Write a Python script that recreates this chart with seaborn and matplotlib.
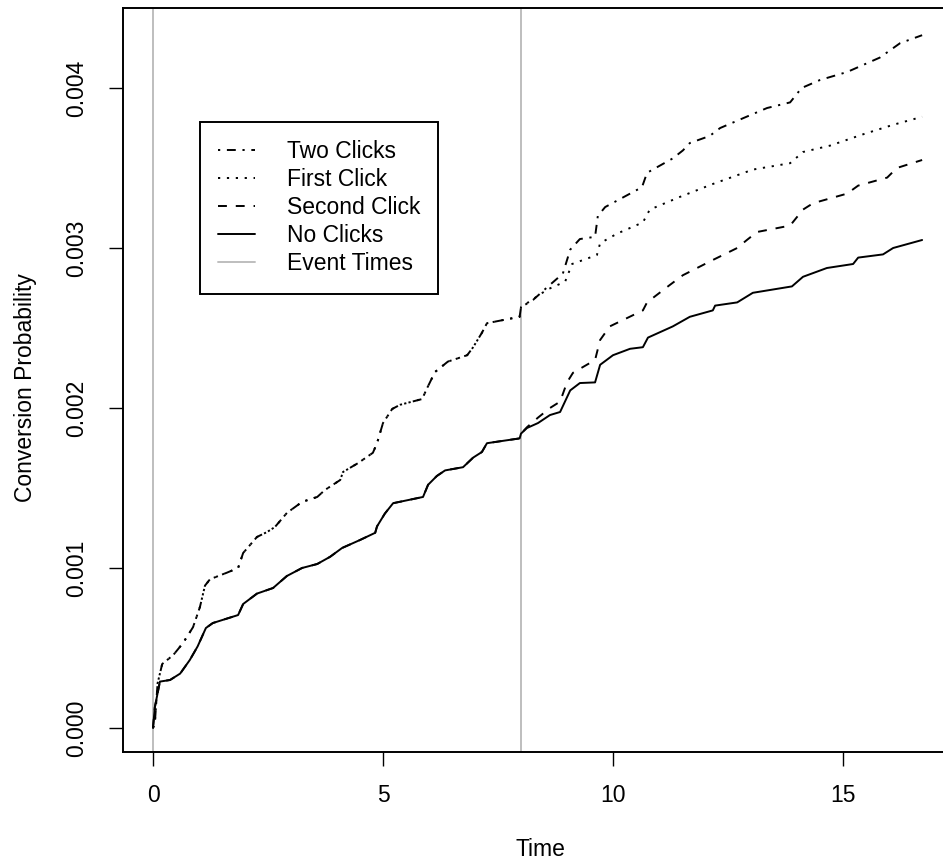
import matplotlib
matplotlib.use("Agg")
import matplotlib.pyplot as plt
from matplotlib.lines import Line2D
import numpy as np
import pandas as pd
import seaborn as sns

# ---- data (probabilities in units of 1e-3) ----
SCALE = 1e-3

# before the second event both "first click" curves share one path,
# and both "no first click" curves share another
t_upper_early = [0, 0.04, 0.10, 0.20, 0.44, 0.65, 0.87, 1.02, 1.13, 1.24, 1.60,
                 1.85, 1.96, 2.26, 2.48, 2.65, 2.91, 3.24, 3.57, 3.74, 4.07, 4.13,
                 4.46, 4.78, 4.87, 5.00, 5.20, 5.37, 5.85, 5.96, 6.13, 6.41, 6.83,
                 6.96, 7.15, 7.26, 7.97]
p_upper_early = [0, 0.03, 0.28, 0.40, 0.456, 0.53, 0.63, 0.756, 0.89, 0.93, 0.97,
                 1.0, 1.094, 1.194, 1.225, 1.256, 1.344, 1.413, 1.444, 1.488, 1.55,
                 1.6, 1.656, 1.72, 1.78, 1.906, 1.994, 2.02, 2.056, 2.125, 2.225,
                 2.29, 2.33, 2.38, 2.47, 2.53, 2.57]

t_lower_early = [0, 0.04, 0.15, 0.37, 0.59, 0.80, 0.97, 1.15, 1.30, 1.85, 1.96,
                 2.26, 2.61, 2.91, 3.24, 3.57, 3.85, 4.11, 4.50, 4.83, 4.87, 5.04,
                 5.22, 5.87, 5.98, 6.17, 6.35, 6.74, 6.96, 7.15, 7.26, 7.97]
p_lower_early = [0, 0.13, 0.29, 0.30, 0.34, 0.425, 0.51, 0.625, 0.656, 0.706, 0.775,
                 0.84, 0.875, 0.95, 1.0, 1.025, 1.07, 1.125, 1.175, 1.22, 1.26, 1.34,
                 1.405, 1.444, 1.52, 1.575, 1.61, 1.63, 1.69, 1.725, 1.78, 1.81]

t_two = [8.0, 8.26, 8.59, 8.91, 9.07, 9.28, 9.61, 9.67, 9.83, 10.63, 10.74, 11.3,
         11.52, 11.67, 12.1, 12.33, 12.9, 13.35, 13.85, 14.1, 14.5, 15.09, 15.8,
         16.24, 16.72]
p_two = [2.63, 2.675, 2.76, 2.84, 2.99, 3.056, 3.07, 3.2, 3.256, 3.38, 3.47, 3.56,
         3.61, 3.656, 3.7, 3.75, 3.82, 3.875, 3.91, 4.0, 4.05, 4.1, 4.19, 4.28, 4.33]

t_first = [8.0, 8.57, 8.96, 9.11, 9.65, 9.72, 10.09, 10.65, 10.8, 11.46, 12.17,
           13.04, 13.85, 14.13, 14.72, 15.43, 16.09, 16.72]
p_first = [2.63, 2.74, 2.79, 2.9, 2.956, 3.03, 3.09, 3.16, 3.24, 3.32, 3.4, 3.49,
           3.53, 3.6, 3.64, 3.71, 3.77, 3.82]

t_second = [8.0, 8.13, 8.37, 8.63, 8.85, 9.0, 9.13, 9.61, 9.72, 9.93, 10.65, 10.74,
            11.24, 11.52, 12.17, 12.7, 12.91, 13.13, 13.85, 14.13, 14.35, 15.09,
            15.33, 15.96, 16.17, 16.72]
p_second = [1.84, 1.88, 1.94, 2.0, 2.04, 2.16, 2.22, 2.3, 2.425, 2.51, 2.61, 2.66,
            2.77, 2.83, 2.925, 3.0, 3.05, 3.1, 3.14, 3.24, 3.28, 3.34, 3.39, 3.44,
            3.5, 3.55]

t_none = [8.0, 8.13, 8.37, 8.63, 8.85, 9.07, 9.28, 9.61, 9.72, 10.0, 10.37, 10.65,
          10.76, 11.3, 11.67, 12.17, 12.22, 12.7, 13.04, 13.89, 14.13, 14.65, 15.22,
          15.33, 15.87, 16.09, 16.72]
p_none = [1.84, 1.875, 1.906, 1.956, 1.975, 2.11, 2.156, 2.16, 2.27, 2.33, 2.37,
          2.38, 2.44, 2.51, 2.57, 2.61, 2.64, 2.66, 2.72, 2.76, 2.82, 2.875, 2.9,
          2.94, 2.96, 3.0, 3.05]

event_times = [0, 8]

series_names = ["Two Clicks", "First Click", "Second Click", "No Clicks"]
x_ticks = [0, 5, 10, 15]
y_ticks = [0.000, 0.001, 0.002, 0.003, 0.004]
y_tick_labels = ["0.000", "0.001", "0.002", "0.003", "0.004"]

# ---- long-format table ----
parts = {
    "Two Clicks": (t_upper_early + t_two, p_upper_early + p_two),
    "First Click": (t_upper_early + t_first, p_upper_early + p_first),
    "Second Click": (t_lower_early + t_second, p_lower_early + p_second),
    "No Clicks": (t_lower_early + t_none, p_lower_early + p_none),
}
frames = []
for name in series_names:
    t, p = parts[name]
    frames.append(pd.DataFrame({"Time": t,
                                "Prob": np.asarray(p) * SCALE,
                                "series": name}))
df = pd.concat(frames, ignore_index=True)

# ---- style ----
sns.set_style("white")
plt.rcParams["font.family"] = ["Liberation Sans", "DejaVu Sans"]
plt.rcParams["lines.scale_dashes"] = False
plt.rcParams["text.color"] = "black"
plt.rcParams["axes.labelcolor"] = "black"
FS = 16.5
LW = 1.4
U = 1.6  # dash unit in points

dash_map = {
    "Two Clicks": (U, 3 * U, 4 * U, 3 * U),
    "First Click": (U, 3 * U),
    "Second Click": (4 * U, 4 * U),
    "No Clicks": "",
}

W, H = 943, 867
fig = plt.figure(figsize=(W / 100, H / 100), dpi=100)
L, R, T, B = 123, 957, 8, 752
ax = fig.add_axes([L / W, 1 - B / H, (R - L) / W, (B - T) / H])

# event-time markers
for et in event_times:
    ax.axvline(et, color="#bebebe", lw=LW, zorder=1)

sns.lineplot(data=df, x="Time", y="Prob", style="series", style_order=series_names,
             dashes=dash_map, color="black", linewidth=LW, estimator=None,
             sort=False, legend=False, ax=ax, zorder=2)

# axes limits (pixel-aligned frame)
x0, px_per_x = 153, 46.0
y0, px_per_y = 728, 160.0 / 0.001
ax.set_xlim((L - x0) / px_per_x, (R - x0) / px_per_x)
ax.set_ylim((y0 - B) / px_per_y, (y0 - T) / px_per_y)

ax.set_xticks(x_ticks)
ax.set_xticklabels([str(v) for v in x_ticks], fontsize=FS)
ax.set_yticks(y_ticks)
ax.set_yticklabels(y_tick_labels, fontsize=FS, rotation=90, va="center")
ax.tick_params(axis="both", direction="out", length=10, width=1.0,
               color="black", labelcolor="black")
ax.tick_params(axis="x", pad=13, bottom=True)
ax.tick_params(axis="y", pad=15, left=True)

for s in ax.spines.values():
    s.set_visible(True)
    s.set_color("black")
    s.set_linewidth(LW)

ax.set_xlabel("Time", fontsize=FS, color="black")
ax.set_ylabel("Conversion Probability", fontsize=FS, color="black")
ax.xaxis.set_label_coords(0.5, (B - 850) / (B - T))
ax.xaxis.label.set_va("center")
ax.yaxis.set_label_coords((25 - L) / (R - L), 0.49)
ax.yaxis.label.set_va("center")

# legend
handles = [Line2D([], [], color="black", lw=LW, dashes=dash_map[n])
           for n in series_names[:-1]]
handles.append(Line2D([], [], color="black", lw=LW, linestyle="-"))
handles.append(Line2D([], [], color="#bebebe", lw=LW, linestyle="-"))
labels = series_names + ["Event Times"]
leg = ax.legend(handles, labels, loc="upper left",
                bbox_to_anchor=(200 / W, 1 - 122 / H), bbox_transform=fig.transFigure,
                borderaxespad=0, fontsize=FS, frameon=True, fancybox=False,
                shadow=False, handlelength=1.6, handletextpad=1.38,
                labelspacing=0.22, borderpad=0.8)
leg.get_frame().set_edgecolor("black")
leg.get_frame().set_linewidth(LW)
leg.get_frame().set_alpha(1)

fig.savefig("out.png", dpi=100)
